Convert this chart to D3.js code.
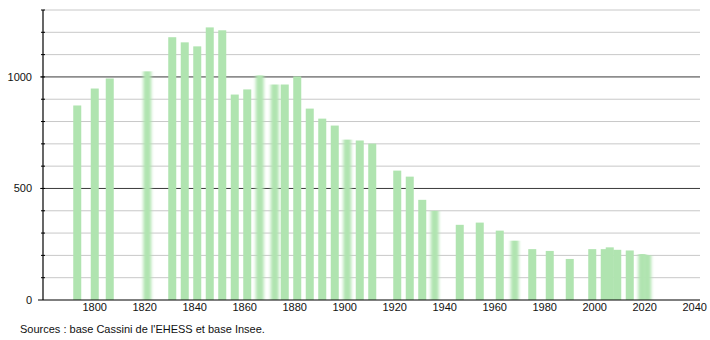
<!DOCTYPE html>
<html>
<head>
<meta charset="utf-8">
<script src="https://cdn.jsdelivr.net/npm/d3@7"></script>
<style>
  body { margin: 0; background: #fff; }
  svg { display: block; font-family: "Liberation Sans", Arial, sans-serif; }
</style>
</head>
<body>
<svg id="chart" width="710" height="340"></svg>
<script>
// Recensements (années) et population
const years = [1793, 1800, 1806, 1821, 1831, 1836, 1841, 1846, 1851, 1856,
    1861, 1866, 1872, 1876, 1881, 1886, 1891, 1896, 1901, 1906,
    1911, 1921, 1926, 1931, 1936, 1946, 1954, 1962, 1968, 1975,
    1982, 1990, 1999, 2004, 2006, 2009, 2014, 2019, 2021];
const population = [872, 948, 993, 1025, 1178, 1155, 1137, 1222, 1209, 921,
    944, 1007, 966, 966, 1002, 858, 813, 782, 719, 715,
    701, 580, 553, 449, 400, 337, 347, 311, 266, 228,
    220, 184, 228, 228, 236, 225, 222, 206, 201];
// barres au contour flou dans l'original
const fuzzy = [1821, 1866, 1872, 1901, 1936, 1968, 2019, 2021];

const xTicks = [1800, 1820, 1840, 1860, 1880, 1900, 1920, 1940, 1960, 1980, 2000, 2020, 2040];
const yMajor = [0, 500, 1000];
const yMinor = d3.range(100, 1400, 100);

const svg = d3.select('#chart');
const plot = { left: 43, right: 700, top: 10, bottom: 300 };

const x = d3.scaleLinear().domain([1779.3, 2042.1]).range([plot.left, plot.right]);
const y = d3.scaleLinear().domain([0, 1300]).range([plot.bottom, plot.top]);

const defs = svg.append('defs');
defs.append('filter').attr('id', 'fuzz')
    .attr('x', '-50%').attr('width', '200%')
    .append('feGaussianBlur').attr('stdDeviation', '1.6 0');

// Grid
svg.append('g').selectAll('line')
    .data(yMinor.filter(v => !yMajor.includes(v))).enter().append('line')
    .attr('x1', plot.left).attr('x2', plot.right)
    .attr('y1', d => y(d)).attr('y2', d => y(d))
    .attr('stroke', '#c8c8c8').attr('stroke-width', 1);

svg.append('g').selectAll('line')
    .data(yMajor.filter(v => v > 0)).enter().append('line')
    .attr('x1', plot.left - 3).attr('x2', plot.right)
    .attr('y1', d => y(d)).attr('y2', d => y(d))
    .attr('stroke', '#3a3a3a').attr('stroke-width', 1);

// Bars
const halfW = 1.6;
svg.append('g').selectAll('rect')
    .data(years.map((yr, i) => ({ year: yr, value: population[i] }))).enter().append('rect')
    .attr('x', d => x(d.year - halfW))
    .attr('width', d => x(d.year + halfW) - x(d.year - halfW))
    .attr('y', d => y(d.value))
    .attr('height', d => y(0) - y(d.value))
    .attr('fill', '#b0e4b0')
    .attr('filter', d => fuzzy.includes(d.year) ? 'url(#fuzz)' : null);

// Y axis
const yAxis = svg.append('g');
yAxis.append('line')
    .attr('x1', plot.left).attr('x2', plot.left).attr('y1', plot.top).attr('y2', plot.bottom)
    .attr('stroke', '#000').attr('stroke-width', 1.2);
yAxis.selectAll('.minor')
    .data(yMinor).enter().append('line')
    .attr('x1', plot.left - 2).attr('x2', plot.left + 2)
    .attr('y1', d => y(d)).attr('y2', d => y(d))
    .attr('stroke', '#000');
yAxis.selectAll('text')
    .data(yMajor).enter().append('text')
    .attr('x', 32).attr('y', d => y(d)).attr('dy', '0.35em')
    .attr('text-anchor', 'end').attr('font-size', 11).attr('fill', '#111')
    .text(d => d);

// X axis
const xAxis = svg.append('g');
xAxis.append('line')
    .attr('x1', plot.left - 5).attr('x2', plot.right).attr('y1', plot.bottom).attr('y2', plot.bottom)
    .attr('stroke', '#000').attr('stroke-width', 1.2);
xAxis.selectAll('text')
    .data(xTicks).enter().append('text')
    .attr('x', d => x(d)).attr('y', 311)
    .attr('text-anchor', 'middle').attr('font-size', 11).attr('fill', '#111')
    .text(d => d);

svg.append('text')
    .attr('x', 20).attr('y', 333)
    .attr('font-size', 11).attr('fill', '#111')
    .text("Sources : base Cassini de l'EHESS et base Insee.");
</script>
</body>
</html>
